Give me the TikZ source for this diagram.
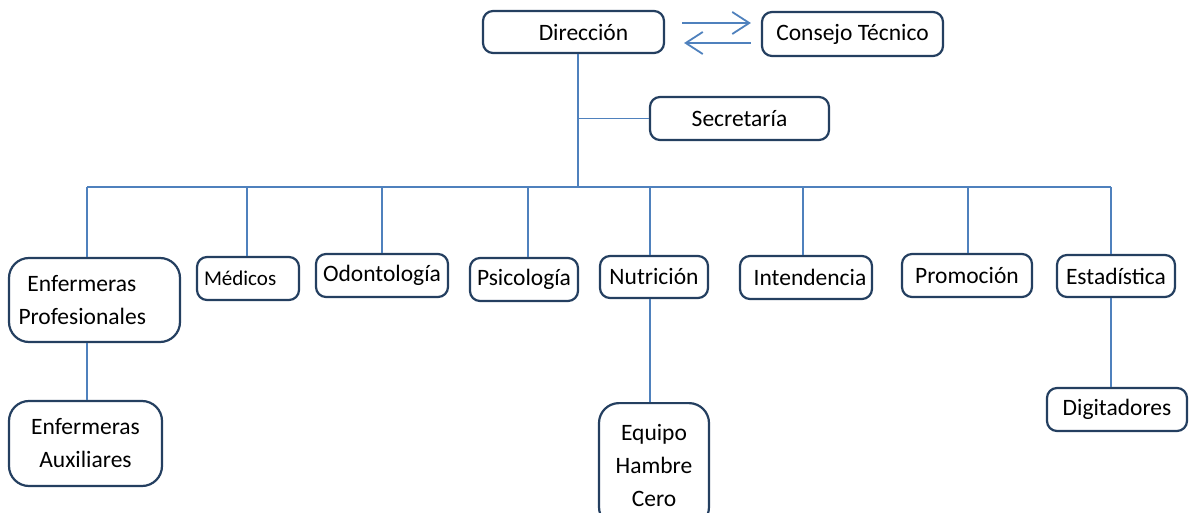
\documentclass[tikz,border=0pt]{standalone}
\usepackage{fontspec}
\setmainfont{Carlito}
\usetikzlibrary{arrows.meta}
\definecolor{lineblue}{HTML}{4F81BD}
\definecolor{boxnavy}{HTML}{243F60}
\begin{document}
\begin{tikzpicture}[x=1pt,y=-1pt,
  box/.style={draw=boxnavy,line width=2.2pt,rounded corners=10pt,fill=white,inner sep=0pt,
    align=center,font=\fontsize{23.5}{33}\selectfont},
  tallbox/.style={box,rounded corners=20pt},
  conn/.style={draw=lineblue,line width=1.5pt},
  arr/.style={draw=lineblue,line width=1.8pt,-{Straight Barb[length=17pt,width=22pt,line width=1.8pt]}}]
\useasboundingbox (0,0) rectangle (1189,513);
\clip (0,0) rectangle (1189,513);
\coordinate (top) at (578,187);
\coordinate (b1) at (87,187);
\coordinate (b2) at (247,187);
\coordinate (b3) at (382,187);
\coordinate (b4) at (528,187);
\coordinate (b5) at (650,187);
\coordinate (b6) at (803,187);
\coordinate (b7) at (968,187);
\coordinate (b8) at (1111,187);
% nodes
\node[box,minimum width=181,minimum height=42] (dir) at (573.5,32) {\hspace*{20pt}Dirección};
\node[box,minimum width=181,minimum height=44] (ct) at (852.5,34) {Consejo Técnico};
\node[box,minimum width=179,minimum height=43] (sec) at (739.5,118.5) {Secretaría};
\node[tallbox,minimum width=171,minimum height=84,text width=152,align=left] (ep) at (94.5,300) {\hspace*{9pt}Enfermeras\\Profesionales};
\node[box,minimum width=102,minimum height=43,text width=88,align=left,font=\fontsize{21}{24}\selectfont] (med) at (248,278.5) {Médicos};
\node[box,minimum width=132,minimum height=43] (odo) at (382,275.5) {Odontología};
\node[box,minimum width=108,minimum height=43] (psi) at (524,279.5) {Psicología};
\node[box,minimum width=108,minimum height=42] (nut) at (654,277) {Nutrición};
\node[box,minimum width=132,minimum height=43] (int) at (806,277.5) {\hspace*{8pt}Intendencia};
\node[box,minimum width=130,minimum height=43] (pro) at (967,275.5) {Promoción};
\node[box,minimum width=118,minimum height=42] (est) at (1116,276) {Estadística};
\node[tallbox,minimum width=153,minimum height=85] (ea) at (85.5,443.5) {Enfermeras\\Auxiliares};
\node[tallbox,minimum width=110,minimum height=124,anchor=north] (eq) at (654,402) {Equipo\\Hambre\\Cero};
\node[box,minimum width=140,minimum height=43] (dig) at (1117,409.5) {Digitadores};
% lines
\draw[conn] (dir.south -| top) -- (top);
\draw[conn] (sec.west) -- (sec.west -| top);
\draw[conn] (b1) -- (b8);
\draw[conn] (b1) -- (b1 |- ep.north);
\draw[conn] (b2) -- (b2 |- med.north);
\draw[conn] (b3) -- (b3 |- odo.north);
\draw[conn] (b4) -- (b4 |- psi.north);
\draw[conn] (b5) -- (b5 |- nut.north);
\draw[conn] (b6) -- (b6 |- int.north);
\draw[conn] (b7) -- (b7 |- pro.north);
\draw[conn] (b8) -- (b8 |- est.north);
\draw[conn] (ep.south -| b1) -- (ea.north -| b1);
\draw[conn] (nut.south -| b5) -- (eq.north -| b5);
\draw[conn] (est.south -| b8) -- (dig.north -| b8);
% arrows
\draw[arr] ([shift={(17,-9)}]dir.east) -- ([shift={(-10,-11)}]ct.west);
\draw[arr] ([shift={(-10,9)}]ct.west) -- ([shift={(19,11)}]dir.east);
\end{tikzpicture}
\end{document}
